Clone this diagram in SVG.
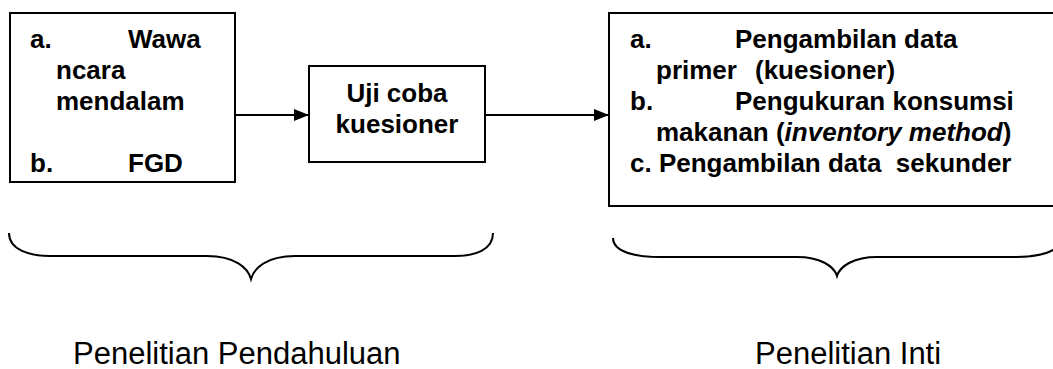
<svg xmlns="http://www.w3.org/2000/svg" width="1053" height="369" viewBox="0 0 1053 369">
<style>
.box{fill:#fff;stroke:#000;stroke-width:2}
.t{font-family:"Liberation Sans",Arial,sans-serif;font-weight:bold;font-size:26px;fill:#000;white-space:pre}
.lbl{font-family:"Liberation Sans",Arial,sans-serif;font-size:31px;fill:#000}
.conn{fill:none;stroke:#000;stroke-width:2}
.brace{fill:none;stroke:#000;stroke-width:2}
</style>
<defs>
<marker id="arr" markerWidth="15" markerHeight="12" refX="15" refY="6" orient="auto" markerUnits="userSpaceOnUse">
<path d="M0,0 L15,6 L0,12 Z" fill="#000"/>
</marker>
</defs>
<rect width="1053" height="369" fill="#fff"/>
<g id="node-pendahuluan">
<rect class="box" x="10" y="13" width="225" height="169"/>
<text class="t" x="30" y="48">a.</text>
<text class="t" x="128" y="48">Wawa</text>
<text class="t" x="56" y="79">ncara</text>
<text class="t" x="56" y="110">mendalam</text>
<text class="t" x="30" y="172">b.</text>
<text class="t" x="128" y="172">FGD</text>
</g>
<g id="node-ujicoba">
<rect class="box" x="309" y="66" width="176" height="96"/>
<text class="t" x="397" y="102" text-anchor="middle">Uji coba</text>
<text class="t" x="397" y="133" text-anchor="middle">kuesioner</text>
</g>
<g id="node-inti">
<rect class="box" x="609" y="13" width="460" height="193"/>
<text class="t" x="630" y="48">a.</text>
<text class="t" x="735" y="48">Pengambilan data</text>
<text class="t" x="656" y="79">primer</text>
<text class="t" x="755" y="79">(kuesioner)</text>
<text class="t" x="630" y="110">b.</text>
<text class="t" x="735" y="110">Pengukuran konsumsi</text>
<text class="t" x="656" y="141">makanan (<tspan font-style="italic">inventory method</tspan>)</text>
<text class="t" x="630" y="172">c. Pengambilan data  sekunder</text>
</g>
<g id="connectors">
<line class="conn" x1="235" y1="115" x2="309" y2="115" marker-end="url(#arr)"/>
<line class="conn" x1="485" y1="115" x2="609" y2="115" marker-end="url(#arr)"/>
</g>
<g id="brace-pendahuluan">
<path class="brace" d="M9,233 C9,250 30,256 50,256 L207,256 C235,256 248,268 251,279 C254,268 267,256 295,256 L455,256 C475,256 493,250 493,233"/>
<text class="lbl" x="73" y="364">Penelitian Pendahuluan</text>
</g>
<g id="brace-inti">
<path class="brace" d="M613,238 C613,252 635,257 660,257 L797,257 C820,257 834,266 837,276 C840,266 854,257 877,257 L1014,257 C1039,257 1061,252 1061,238"/>
<text class="lbl" x="755" y="364">Penelitian Inti</text>
</g>
</svg>
